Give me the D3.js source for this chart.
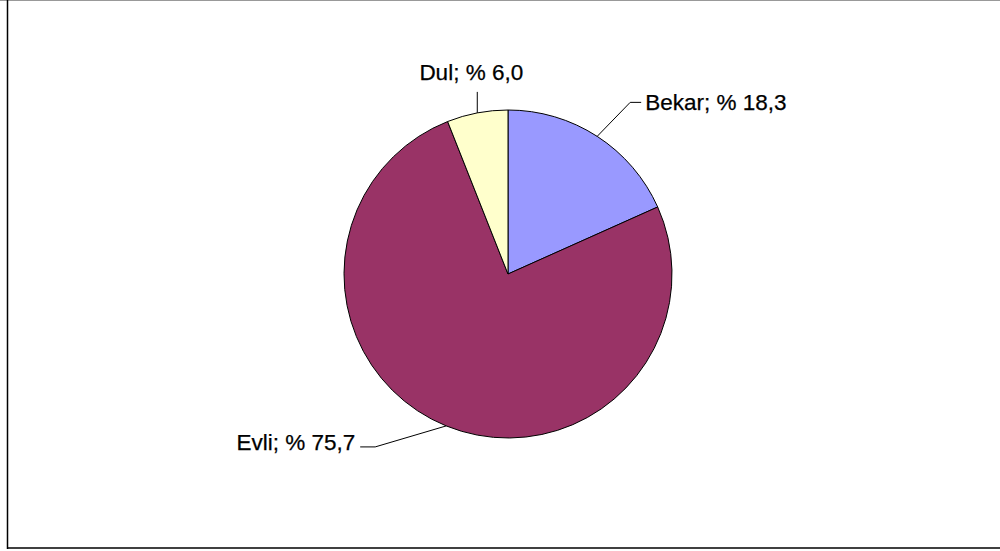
<!DOCTYPE html>
<html><head><meta charset="utf-8">
<script src="https://cdn.jsdelivr.net/npm/d3@7"></script>
<style>html,body{margin:0;padding:0;background:#fff;}svg{display:block;}</style>
</head><body>
<svg id="chart" width="1000" height="551"></svg>
<script>
const categories = ["Bekar", "Evli", "Dul"];
const values = [18.3, 75.7, 6.0];
const labels = ["Bekar; % 18,3", "Evli; % 75,7", "Dul; % 6,0"];
const colors = ["#9999FF", "#993366", "#FFFFCC"];

const svg = d3.select("#chart");
// frame
svg.append("line").attr("x1",0).attr("x2",1000).attr("y1",0.5).attr("y2",0.5).attr("stroke","#999").attr("stroke-width",1);
svg.append("line").attr("x1",7.5).attr("x2",7.5).attr("y1",0).attr("y2",549).attr("stroke","#000").attr("stroke-width",1.5);
svg.append("line").attr("x1",7).attr("x2",1000).attr("y1",548).attr("y2",548).attr("stroke","#000").attr("stroke-width",1.5);

const cx = 508, cy = 274, r = 164;
const pie = d3.pie().sort(null).value(d => d)(values);
const arc = d3.arc().innerRadius(0).outerRadius(r);
const g = svg.append("g").attr("transform", `translate(${cx},${cy})`);
g.selectAll("path").data(pie).join("path")
  .attr("d", arc)
  .attr("fill", (d,i) => colors[i])
  .attr("stroke", "#000").attr("stroke-width", 1).attr("stroke-linejoin","round");

const font = "Liberation Sans, Arial, sans-serif";
const fs = 22.5;
function txt(x, y, anchor, s){
  g.append("text").attr("x",x).attr("y",y).attr("text-anchor",anchor)
   .attr("font-family",font).attr("font-size",fs)
   .attr("fill","#000").attr("stroke","#000").attr("stroke-width",0.25).text(s);
}
// Bekar
{
  const d = pie[0]; const a=(d.startAngle+d.endAngle)/2;
  const p0 = [Math.sin(a)*r, -Math.cos(a)*r];
  const p1 = [p0[0]+33, p0[1]-34];
  const p2 = [p1[0]+11, p1[1]];
  g.append("polyline").attr("points",[p0,p1,p2].map(p=>p.join(",")).join(" ")).attr("fill","none").attr("stroke","#000").attr("stroke-width",1);
  txt(p2[0]+4, p2[1]+8, "start", labels[0]);
}
// Evli
{
  const d = pie[1]; const a=(d.startAngle+d.endAngle)/2;
  const p0 = [Math.sin(a)*r, -Math.cos(a)*r];
  const p1 = [p0[0]-71, p0[1]+21];
  const p2 = [p1[0]-15, p1[1]];
  g.append("polyline").attr("points",[p0,p1,p2].map(p=>p.join(",")).join(" ")).attr("fill","none").attr("stroke","#000").attr("stroke-width",1);
  txt(p2[0]-5, p2[1]+3, "end", labels[1]);
}
// Dul
{
  const d = pie[2]; const a=(d.startAngle+d.endAngle)/2;
  const p0 = [Math.sin(a)*r, -Math.cos(a)*r];
  const p1 = [p0[0], p0[1]-21];
  g.append("polyline").attr("points",[p0,p1].map(p=>p.join(",")).join(" ")).attr("fill","none").attr("stroke","#000").attr("stroke-width",1);
  txt(p1[0]-6, p1[1]-12, "middle", labels[2]);
}
</script>
</body></html>
